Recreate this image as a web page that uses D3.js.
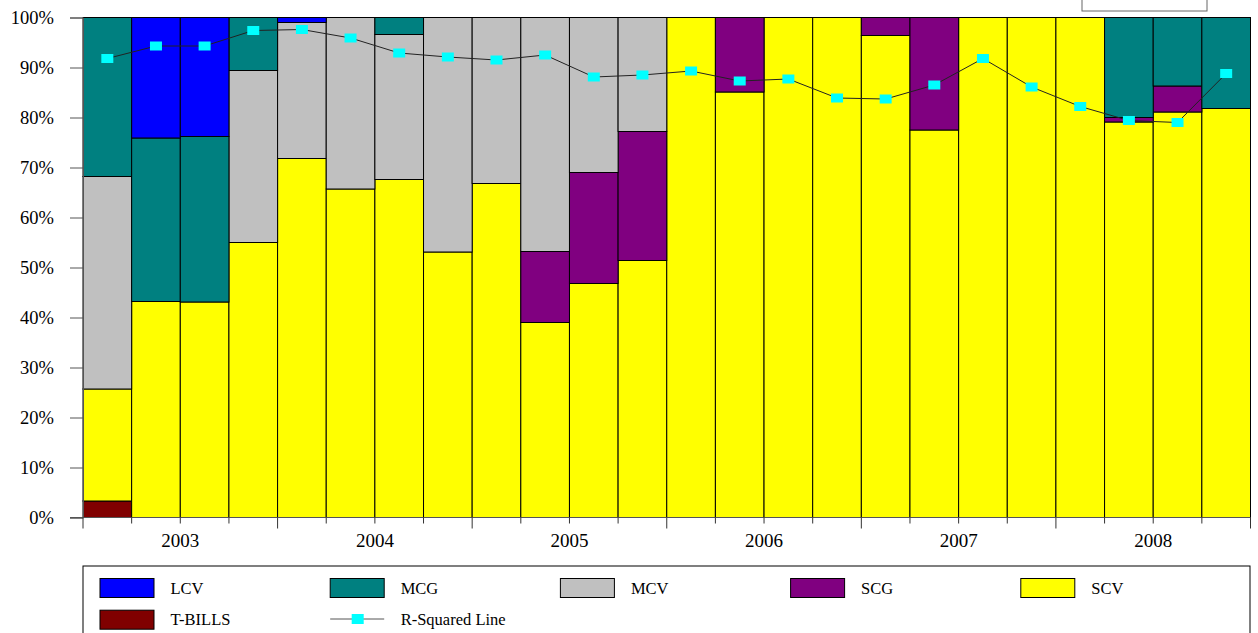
<!DOCTYPE html>
<html>
<head>
<meta charset="utf-8">
<script src="https://cdn.jsdelivr.net/npm/d3@7"></script>
<style>
  html, body { margin: 0; padding: 0; background: #fff; }
  svg { display: block; font-family: "Liberation Serif", "Times New Roman", serif; }
  svg text { font-family: "Liberation Serif", "Times New Roman", serif; }
</style>
</head>
<body>
<svg id="chart" width="1258" height="633"></svg>
<script>
// Quarterly style allocation (percent of portfolio), 2003 Q1 – 2008 Q4
const quarters = ["2003Q1","2003Q2","2003Q3","2003Q4","2004Q1","2004Q2","2004Q3","2004Q4",
                  "2005Q1","2005Q2","2005Q3","2005Q4","2006Q1","2006Q2","2006Q3","2006Q4",
                  "2007Q1","2007Q2","2007Q3","2007Q4","2008Q1","2008Q2","2008Q3","2008Q4"];
const years = ["2003","2004","2005","2006","2007","2008"];

const tbills = [3.3,0,0,0,0,0,0,0,0,0,0,0,0,0,0,0,0,0,0,0,0,0,0,0];
const scv    = [22.4,43.2,43.1,55.0,71.8,65.7,67.6,53.1,66.8,39.0,46.8,51.4,100,85.1,100,100,96.4,77.5,100,100,100,79.1,81.1,81.8];
const scg    = [0,0,0,0,0,0,0,0,0,14.2,22.2,25.8,0,14.9,0,0,3.6,22.5,0,0,0,0.9,5.2,0];
const mcv    = [42.5,0,0,34.4,27.2,34.3,29.0,46.9,33.2,46.8,31.0,22.8,0,0,0,0,0,0,0,0,0,0,0,0];
const mcg    = [31.8,32.7,33.1,10.6,0,0,3.4,0,0,0,0,0,0,0,0,0,0,0,0,0,0,20.0,13.7,18.2];
const lcv    = [0,24.1,23.8,0,1.0,0,0,0,0,0,0,0,0,0,0,0,0,0,0,0,0,0,0,0];
const rSquared = [91.8,94.3,94.3,97.4,97.6,95.9,92.9,92.1,91.5,92.5,88.1,88.5,
                  89.3,87.3,87.7,83.9,83.7,86.5,91.8,86.1,82.2,79.4,79.0,88.8];
const yTicks = [0,10,20,30,40,50,60,70,80,90,100];

const seriesKeys = ["T-BILLS","SCV","SCG","MCV","MCG","LCV"];
const seriesValues = {"T-BILLS": tbills, "SCV": scv, "SCG": scg, "MCV": mcv, "MCG": mcg, "LCV": lcv};
const colors = {"LCV":"#0000FF","MCG":"#008080","MCV":"#C0C0C0","SCG":"#800080","SCV":"#FFFF00","T-BILLS":"#800000"};
const legendOrder = ["LCV","MCG","MCV","SCG","SCV","T-BILLS"];

const rows = quarters.map((q, i) => {
  const r = {q};
  seriesKeys.forEach(k => r[k] = seriesValues[k][i]);
  return r;
});

const svg = d3.select("#chart");
const plotLeft = 83, plotRight = 1250.5, plotTop = 17.5, plotBottom = 517.5;

const x = d3.scaleBand().domain(quarters).range([plotLeft, plotRight]).padding(0);
const xYear = d3.scaleBand().domain(years).range([plotLeft, plotRight]).padding(0);
const y = d3.scaleLinear().domain([0, 100]).range([plotBottom, plotTop]);

// stacked bars
const stacked = d3.stack().keys(seriesKeys)(rows);
svg.append("g").selectAll("g")
  .data(stacked).join("g")
  .attr("fill", d => colors[d.key])
  .selectAll("rect")
  .data(d => d.filter(s => s[1] - s[0] > 0))
  .join("rect")
  .attr("x", d => x(d.data.q))
  .attr("width", x.bandwidth())
  .attr("y", d => y(d[1]))
  .attr("height", d => y(d[0]) - y(d[1]))
  .attr("stroke", "#000")
  .attr("stroke-width", 1);

// y axis
const yAxis = svg.append("g")
  .attr("transform", `translate(${plotLeft},0)`)
  .call(d3.axisLeft(y).tickValues(yTicks).tickFormat(d => d + "%").tickSize(13).tickPadding(16))
  .attr("font-family", null)
  .attr("font-size", null);
yAxis.select(".domain").attr("stroke", "#555");
yAxis.selectAll(".tick line").attr("stroke", "#555");
yAxis.selectAll("text").attr("font-size", 18.5).attr("fill", "#000");

// x axis: baseline, quarter ticks and year labels
const xg = svg.append("g");
xg.append("line").attr("x1", 70).attr("x2", plotRight).attr("y1", plotBottom).attr("y2", plotBottom)
  .attr("stroke", "#555");
const boundaries = quarters.map(q => x(q)).concat([plotRight]);
xg.selectAll("line.tk").data(boundaries).join("line")
  .attr("class", "tk")
  .attr("x1", d => d).attr("x2", d => d)
  .attr("y1", plotBottom)
  .attr("y2", (d, i) => plotBottom + (i % 4 === 0 ? 11 : 6))
  .attr("stroke", "#333");
xg.selectAll("text").data(years).join("text")
  .attr("x", d => xYear(d) + xYear.bandwidth() / 2)
  .attr("y", 547)
  .attr("text-anchor", "middle")
  .attr("font-size", 19)
  .text(d => d);

// R-squared line with square markers
const cx = q => x(q) + x.bandwidth() / 2;
svg.append("path")
  .datum(rSquared)
  .attr("fill", "none")
  .attr("stroke", "#222")
  .attr("stroke-width", 1)
  .attr("d", d3.line().x((d, i) => cx(quarters[i])).y(d => y(d)));
svg.append("g").selectAll("rect")
  .data(rSquared).join("rect")
  .attr("x", (d, i) => cx(quarters[i]) - 6)
  .attr("y", d => y(d) - 4.5)
  .attr("width", 12).attr("height", 9)
  .attr("fill", "#00FFFF");

// small box at the top right
svg.append("rect").attr("x", 1082).attr("y", -5).attr("width", 125).attr("height", 16)
  .attr("fill", "#fff").attr("stroke", "#666");

// legend
const lg = svg.append("g");
lg.append("rect").attr("x", plotLeft).attr("y", 566).attr("width", plotRight - plotLeft - 0.5).attr("height", 80)
  .attr("fill", "#fff").attr("stroke", "#000");
const colX = i => 100 + i * 230.2;
const items = legendOrder.map((k, i) => ({k, col: i % 5, row: Math.floor(i / 5)}));
items.forEach(it => {
  const yy = 578.5 + it.row * 31.7;
  lg.append("rect").attr("x", colX(it.col)).attr("y", yy).attr("width", 54).attr("height", 19)
    .attr("fill", colors[it.k]).attr("stroke", "#000");
  lg.append("text").attr("x", colX(it.col) + 70.5).attr("y", yy + 9.5).attr("dy", "0.35em")
    .attr("font-size", 16.5).text(it.k);
});
// R-squared legend entry
const rx = colX(1), ry = 619;
lg.append("line").attr("x1", rx).attr("x2", rx + 54).attr("y1", ry).attr("y2", ry)
  .attr("stroke", "#555");
lg.append("rect").attr("x", rx + 21.5).attr("y", ry - 5).attr("width", 12).attr("height", 10)
  .attr("fill", "#00FFFF");
lg.append("text").attr("x", rx + 70.5).attr("y", ry).attr("dy", "0.35em")
  .attr("font-size", 16.5).text("R-Squared Line");
</script>
</body>
</html>
